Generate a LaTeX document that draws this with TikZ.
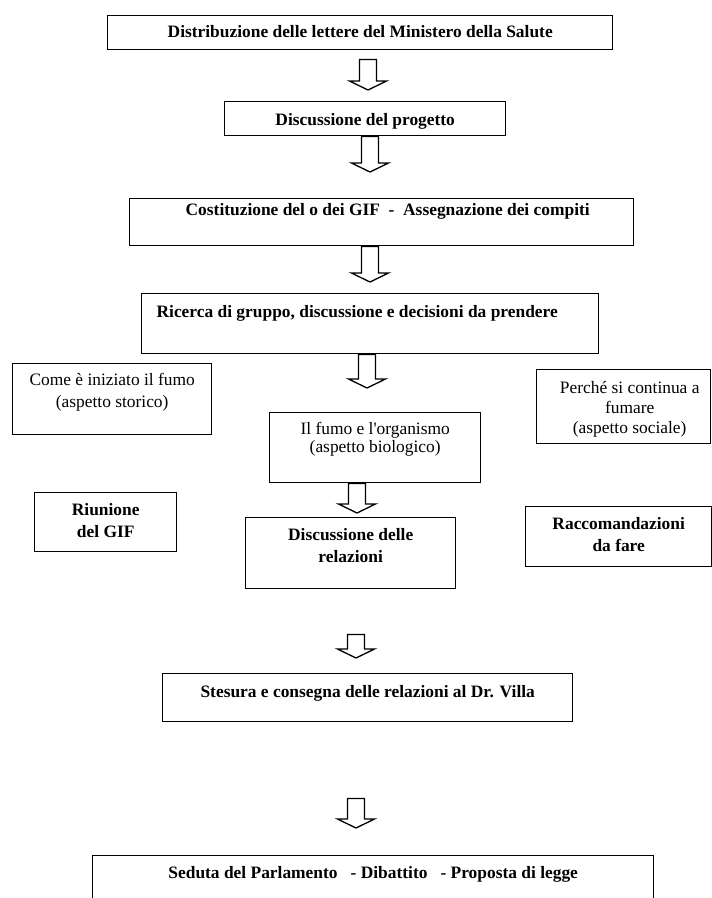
\documentclass[tikz,border=0pt]{standalone}
\usepackage{fontspec}
\setmainfont{Liberation Serif}
\usetikzlibrary{calc}
\tikzset{
  box/.style={draw, line width=1.4pt, anchor=north west, inner ysep=0pt, inner xsep=4pt,
    align=center, font=\fontsize{17.4}{20}\selectfont},
  bbox/.style={box, font=\fontsize{17.4}{20}\selectfont\bfseries},
  blk/.style={draw, line width=1.3pt, line join=miter,
    to path={let \p1=(\tikztostart), \p2=(\tikztotarget) in
      (\x1-8.5pt,\y1) -- (\x1-8.5pt,\y2+9pt) -- (\x1-18.5pt,\y2+9pt) -- (\x1,\y2)
      -- (\x1+18.5pt,\y2+9pt) -- (\x1+8.5pt,\y2+9pt) -- (\x1+8.5pt,\y1) -- cycle}}
}
\begin{document}
\begin{tikzpicture}[x=1pt,y=-1pt]
\fill[white] (0,0) rectangle (712,898);
\useasboundingbox (0,0) rectangle (712,898);

\node[bbox, minimum width=505pt, text height=22pt, text depth=12pt] (b1) at (107,15)
  {Distribuzione delle lettere del Ministero della Salute};
\node[bbox, minimum width=281pt, text height=24pt, text depth=10pt] (b2) at (224,101)
  {Discussione del progetto};
\node[bbox, minimum width=504pt, text height=17pt, text depth=30pt] (b3) at (129,198)
  {\hspace*{12pt}Costituzione del o dei GIF\ \ -\ \ Assegnazione dei compiti};
\node[bbox, minimum width=457pt, text height=24pt, text depth=36pt] (b4) at (141,293)
  {Ricerca di gruppo, discussione e decisioni da prendere\hspace*{26pt}};
\node[box, minimum width=199pt, text height=44pt, text depth=27pt] (b5) at (12,363)
  {Come è iniziato il fumo\\[2pt](aspetto storico)};
\node[box, minimum width=211pt, text height=40pt, text depth=30pt] (b6) at (269,412)
  {Il fumo e l\textquotesingle organismo\\[-2pt](aspetto biologico)};
\node[box, minimum width=174pt, text height=64pt, text depth=10pt] (b7) at (536,369)
  {\hspace*{12pt}Perché si continua a\\\hspace*{12pt}fumare\\\hspace*{12pt}(aspetto sociale)};
\node[bbox, minimum width=142pt, text height=45pt, text depth=14pt] (b8) at (34,492)
  {Riunione\\[2pt]del GIF};
\node[bbox, minimum width=210pt, text height=45pt, text depth=26pt] (b9) at (245,517)
  {Discussione delle\\[2pt]relazioni};
\node[bbox, minimum width=186pt, text height=45pt, text depth=15pt] (b10) at (525,506)
  {Raccomandazioni\\[2pt]da fare};
\node[bbox, minimum width=410pt, text height=24pt, text depth=24pt] (b11) at (162,673)
  {Stesura e consegna delle relazioni al Dr. Villa};
\node[bbox, minimum width=561pt, text height=23pt, text depth=40pt] (b12) at (92,855)
  {Seduta del Parlamento\ \ \ - Dibattito\ \ \ - Proposta di legge};

\coordinate (t1) at (368,90);
\coordinate (t2) at (370,172);
\coordinate (t3) at (370,282);
\coordinate (t4) at (367,388);
\coordinate (t5) at (357,513);
\coordinate (t6) at (356,658);
\coordinate (t7) at (356,828);

\draw[blk] ($(t1 |- b1.south)+(0,9)$) to (t1);
\draw[blk] (t2 |- b2.south) to (t2);
\draw[blk] (t3 |- b3.south) to (t3);
\draw[blk] (t4 |- b4.south) to (t4);
\draw[blk] (t5 |- b6.south) to (t5);
\draw[blk] ($(t6 |- b9.south)+(0,45)$) to (t6);
\draw[blk] ($(t7 |- b11.south)+(0,76)$) to (t7);
\end{tikzpicture}
\end{document}
